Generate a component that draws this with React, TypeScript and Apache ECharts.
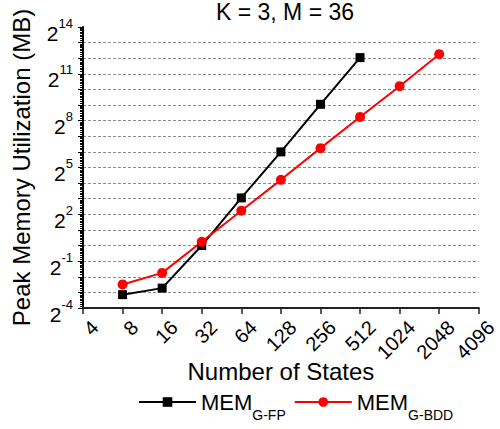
import React, { useEffect, useRef } from "react";
import * as echarts from "echarts";

// Number of states on the x axis (log2 scale)
const statesGFP = [8, 16, 32, 64, 128, 256, 512];
const statesGBDD = [8, 16, 32, 64, 128, 256, 512, 1024, 2048];

// Peak memory utilization in MB
const memGFP = [0.113, 0.151, 1.0, 8.3, 64, 530, 4210];
const memGBDD = [0.178, 0.297, 1.18, 4.7, 18.5, 75.6, 302, 1184, 4905];

const seriesNames = ["MEM_G-FP", "MEM_G-BDD"];
const titleText = "K = 3, M = 36";
const xName = "Number of States";
const yName = "Peak Memory Utilization (MB)";

const FONT = "'Liberation Sans', Arial, sans-serif";

export default function App() {
  const ref = useRef<HTMLDivElement>(null);

  useEffect(() => {
    if (!ref.current) return;
    const chart = echarts.init(ref.current, null, { renderer: "svg" });

    const pairs = (xs: number[], ys: number[]) => ys.map((y, i) => [xs[i], y]);

    chart.setOption({
      animation: false,
      backgroundColor: "#fff",
      textStyle: { fontFamily: FONT, color: "#000" },
      title: {
        text: titleText,
        left: 285,
        textAlign: "center",
        top: 0,
        padding: 0,
        textStyle: { fontFamily: FONT, fontSize: 23, fontWeight: "normal", color: "#000" },
      },
      grid: { left: 83, right: 17, top: 27, bottom: 121, containLabel: false },
      legend: {
        left: 138,
        top: 384,
        padding: 0,
        itemWidth: 57,
        itemHeight: 12,
        itemGap: 8,
        data: seriesNames,
        formatter: (name: string) => {
          const [main, sub] = name.split("_");
          return `{m|${main}}{s|${sub}}`;
        },
        textStyle: {
          fontFamily: FONT,
          color: "#000",
          rich: {
            m: {
              fontFamily: FONT,
              fontSize: 22,
              lineHeight: 36,
              padding: [7, 0, 0, 0],
              verticalAlign: "top",
              color: "#000",
            },
            s: {
              fontFamily: FONT,
              fontSize: 14,
              lineHeight: 16,
              padding: [24, 0, 0, 0],
              verticalAlign: "top",
              color: "#000",
            },
          },
        },
      },
      xAxis: {
        type: "log",
        logBase: 2,
        min: 4,
        max: 4096,
        interval: 1,
        name: xName,
        nameLocation: "middle",
        nameGap: 51,
        nameMoveOverlap: false,
        nameTextStyle: { fontFamily: FONT, fontSize: 24, color: "#000" },
        axisLine: { show: true, lineStyle: { color: "#222", width: 2 } },
        axisTick: { show: true, length: 6, inside: false, lineStyle: { color: "#222", width: 1.5 } },
        minorTick: { show: false },
        splitLine: { show: false },
        axisLabel: {
          rotate: 45,
          margin: 4,
          fontSize: 20,
          fontFamily: FONT,
          color: "#000",
          verticalAlign: "top",
          padding: [7, 0, 0, 0],
          formatter: (v: number) => String(Math.round(v)),
        },
      },
      yAxis: {
        type: "log",
        logBase: 2,
        min: Math.pow(2, -4),
        max: Math.pow(2, 14),
        interval: 1,
        name: yName,
        nameLocation: "middle",
        nameGap: 50,
        nameMoveOverlap: false,
        nameTextStyle: { fontFamily: FONT, fontSize: 24, color: "#000" },
        axisLine: { show: true, lineStyle: { color: "#000", width: 2 } },
        axisTick: { show: true, length: 5, inside: false, lineStyle: { color: "#000", width: 1 } },
        minorTick: { show: true, splitNumber: 10, length: 3, lineStyle: { color: "#000", width: 1 } },
        splitLine: {
          show: true,
          showMinLine: false,
          showMaxLine: false,
          lineStyle: { color: "#8a8a8a", width: 1, type: [3, 2] },
        },
        axisLabel: {
          margin: 10,
          fontFamily: FONT,
          color: "#000",
          formatter: (v: number) => {
            const e = Math.round(Math.log2(v));
            if ((e + 4) % 3 !== 0) return "";
            return `{b|2}{s|${e}}`;
          },
          rich: {
            b: { fontFamily: FONT, fontSize: 21, lineHeight: 21, padding: [6, 0, 0, 0], verticalAlign: "top", color: "#000" },
            s: { fontFamily: FONT, fontSize: 13, lineHeight: 14, verticalAlign: "top", color: "#000" },
          },
        },
      },
      series: [
        {
          name: seriesNames[0],
          type: "line",
          data: pairs(statesGFP, memGFP),
          symbol: "rect",
          symbolSize: 9,
          color: "#000",
          itemStyle: { color: "#000" },
          lineStyle: { color: "#000", width: 2 },
        },
        {
          name: seriesNames[1],
          type: "line",
          data: pairs(statesGBDD, memGBDD),
          symbol: "circle",
          symbolSize: 10,
          color: "#ff0000",
          itemStyle: { color: "#ff0000" },
          lineStyle: { color: "#ff0000", width: 2 },
        },
      ],
    });

    return () => chart.dispose();
  }, []);

  return (
    <div
      ref={ref}
      style={{ position: "fixed", left: 0, top: 0, width: 500, height: 429, background: "#fff" }}
    />
  );
}
